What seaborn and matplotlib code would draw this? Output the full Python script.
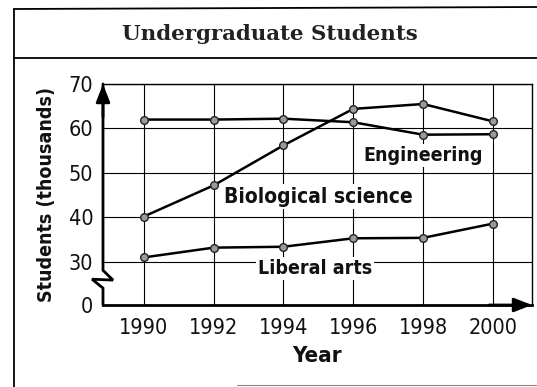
import matplotlib
matplotlib.use("Agg")
import matplotlib.pyplot as plt
from matplotlib.lines import Line2D
import matplotlib.transforms as mtransforms
import pandas as pd
import seaborn as sns

# --- data (thousands of students) ---
years = [1990, 1992, 1994, 1996, 1998, 2000]
engineering = [62.0, 62.0, 62.2, 61.4, 58.6, 58.7]
biological_science = [40.2, 47.2, 56.2, 64.4, 65.5, 61.6]
liberal_arts = [31.0, 33.2, 33.4, 35.3, 35.4, 38.6]

y_tick_values = [30, 40, 50, 60, 70]
y_tick_labels = ["30", "40", "50", "60", "70"]
x_tick_labels = ["1990", "1992", "1994", "1996", "1998", "2000"]

title = "Undergraduate Students"
x_label = "Year"
y_label = "Students (thousands)"

series_labels = {
    "Engineering": (1998.0, 54.0),
    "Biological science": (1995.0, 44.7),
    "Liberal arts": (1994.9, 28.6),
}

df = pd.DataFrame({
    "Year": years * 3,
    "Students": engineering + biological_science + liberal_arts,
    "Field": ["Engineering"] * 6 + ["Biological science"] * 6 + ["Liberal arts"] * 6,
})

sns.set_theme(style="white")
narrow = ["DejaVu Sans"]
plt.rcParams["font.family"] = narrow
plt.rcParams["font.stretch"] = "condensed"

W, H = 537, 387
fig = plt.figure(figsize=(W / 100, H / 100), dpi=100)
fig.patch.set_facecolor("white")

ax_left, ax_right, ax_top, ax_bot = 103, 532, 84, 305
ax = fig.add_axes([ax_left / W, 1 - ax_bot / H, (ax_right - ax_left) / W, (ax_bot - ax_top) / H])
ax.set_facecolor("white")

y_floor = 20.3  # broken axis: the "0" baseline sits just below 30
ax.set_xlim(1988.83, 2001.12)
ax.set_ylim(y_floor, 70)

# grid
ax.set_xticks(years)
ax.set_xticklabels(x_tick_labels)
ax.set_yticks([y_floor] + y_tick_values)
ax.set_yticklabels(["0"] + y_tick_labels)
ax.grid(True, color="black", linewidth=0.8)
ax.set_axisbelow(True)
ax.tick_params(axis="both", length=0, labelsize=15.5, colors="#111111")
ax.tick_params(axis="x", pad=9)
ax.tick_params(axis="y", pad=7)
for lbl in ax.get_xticklabels() + ax.get_yticklabels():
    lbl.set_fontstretch("condensed")

for name in ["top", "right"]:
    ax.spines[name].set_visible(True)
    ax.spines[name].set_color("black")
    ax.spines[name].set_linewidth(1.0)
ax.spines["bottom"].set_color("black")
ax.spines["bottom"].set_linewidth(2.0)
ax.spines["left"].set_visible(False)

# lines with markers
palette = {"Engineering": "black", "Biological science": "black", "Liberal arts": "black"}
sns.lineplot(data=df, x="Year", y="Students", hue="Field", palette=palette,
             linewidth=1.8, marker="o", markersize=5.5, markerfacecolor="#9a9a9a",
             markeredgecolor="#222222", markeredgewidth=1.0, legend=False, ax=ax,
             zorder=3)

# series labels with white backgrounds so they break the grid
label_sizes = {"Engineering": 14, "Biological science": 15, "Liberal arts": 14}
for text, (xv, yv) in series_labels.items():
    ax.text(xv, yv, text, ha="center", va="center", fontsize=label_sizes[text],
            fontweight="bold", family=narrow, fontstretch="condensed",
            color="#111111", zorder=4,
            bbox=dict(boxstyle="square,pad=0.1", facecolor="white", edgecolor="none"))

# left axis with a break symbol
trans = mtransforms.blended_transform_factory(ax.transAxes, ax.transData)
px = 1.0 / (ax_right - ax_left)
zig_x = [0, 0, 10 * px, -11 * px, 0, 0]
zig_y = [70, 28.1, 25.9, 26.1, 24.1, y_floor]
ax.add_line(Line2D(zig_x, zig_y, transform=trans, color="black", linewidth=2.0,
                   clip_on=False, zorder=5, solid_joinstyle="miter"))

# axis arrows
arrow = dict(arrowstyle="-|>,head_length=0.9,head_width=0.35", color="black",
             lw=2.0, shrinkA=0, shrinkB=0)
ax.annotate("", xy=(0, 1.0), xycoords="axes fraction", xytext=(0, 0.85),
            textcoords="axes fraction", arrowprops=arrow, zorder=6)
ax.annotate("", xy=(1.0, 0), xycoords="axes fraction", xytext=(0.9, 0),
            textcoords="axes fraction", arrowprops=arrow, zorder=6)

ax.set_xlabel(x_label, fontsize=16, fontweight="bold", fontstretch="condensed",
              labelpad=6, color="#111111")
ax.set_ylabel(y_label, fontsize=14, fontweight="bold", fontstretch="condensed",
              labelpad=9, color="#111111")

# outer frame and title band
def fig_line(xs, ys, **kw):
    fig.add_artist(Line2D([x / W for x in xs], [1 - y / H for y in ys],
                          transform=fig.transFigure, **kw))

fig_line([14, 14], [9, 387], color="black", linewidth=1.3)
fig_line([14, 537], [9, 7], color="black", linewidth=1.3)
fig_line([14, 537], [58, 58], color="black", linewidth=1.3)
fig_line([237, 537], [385, 385], color="#888888", linewidth=0.8)

fig.text(270 / W, 1 - 34 / H, title, ha="center", va="center", fontsize=15.4,
         fontweight="bold", family=["DejaVu Serif"], fontstretch="normal",
         color="#222222")

fig.savefig("out.png", dpi=100, facecolor="white")
